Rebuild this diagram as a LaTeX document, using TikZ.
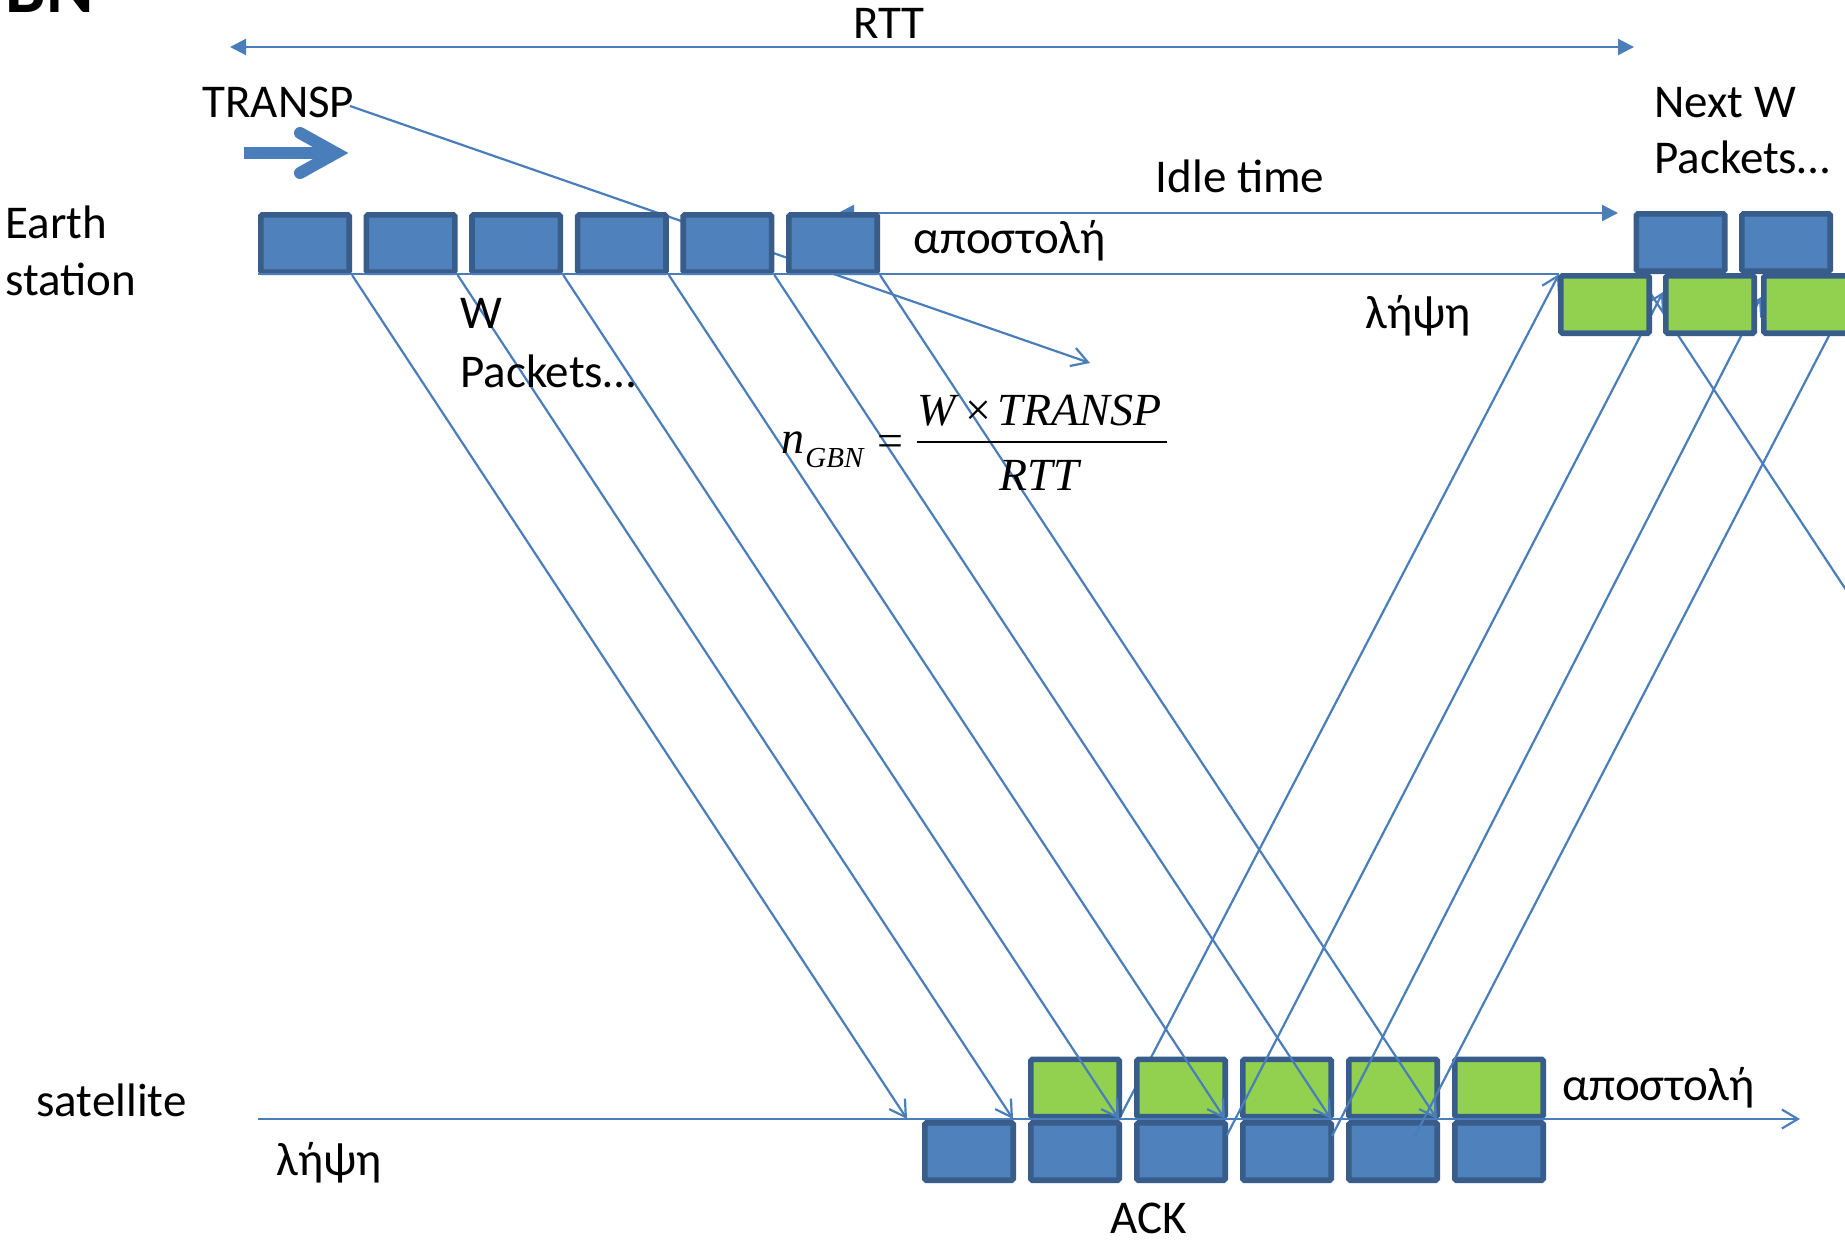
\documentclass[tikz,border=0pt]{standalone}
\usepackage{fontspec}
\setmainfont{Carlito}
\newfontfamily\tms{Liberation Serif}
\usetikzlibrary{arrows.meta}
\definecolor{pfill}{HTML}{4F81BD}
\definecolor{pborder}{HTML}{385D8A}
\definecolor{ackfill}{HTML}{92D050}
\definecolor{ln}{HTML}{4A7EBB}
\begin{document}
\begin{tikzpicture}[x=0.5pt,y=-0.5pt,
  lbl/.style={font=\fontsize{23.5pt}{28pt}\selectfont, inner sep=0pt, anchor=base west},
  frm/.style={inner sep=0pt, anchor=base west},
  pkt/.style={draw=pborder, line width=2.8pt, fill=pfill, minimum width=44.2pt, minimum height=28.7pt, inner sep=0pt, rounded corners=0.8pt},
  ackbox/.style={pkt, fill=ackfill},
  conn/.style={draw=ln, line width=1.1pt},
  barb/.style={conn, -{Straight Barb[length=8pt,width=9.5pt]}},
  dbl/.style={conn, {Triangle[length=8pt,width=8pt]}-{Triangle[length=8pt,width=8pt]}},
]
\useasboundingbox (0,0) rectangle (1845,1242);
\fill[white] (0,0) rectangle (1845,1242);
\clip (0,0) rectangle (1845,1242);

% title fragment
\node[inner sep=0pt, anchor=base east, font=\fontsize{36pt}{36pt}\selectfont\bfseries] (title) at (94,12) {BN};

% coordinates
\coordinate (rL) at (230,47);
\coordinate (rR) at (1634,47);
\coordinate (iL) at (838,213);
\coordinate (iR) at (1618,213);
\coordinate (tS) at (350,106);
\coordinate (tE) at (1090,363);
\coordinate (eL) at (258,274);
\coordinate (sL) at (258,1119);
\coordinate (sR) at (1800,1119);
\foreach \i in {1,...,6} \coordinate (s\i) at ({907+106*(\i-1)},1119);
\coordinate (c2) at (1227,1135);
\coordinate (c3) at (1332,1136);
\coordinate (c4) at (1415,1136);
\coordinate (a2) at (1663,292);
\coordinate (a3) at (1761,297);
\coordinate (a4) at (1849,297);
\coordinate (nS) at (1637,273);
\coordinate (nE) at (1945,740);

% RTT and idle arrows, TRANSP line (behind the packets)
\draw[dbl] (rL) -- (rR);
\draw[dbl] (iL) -- (iR);
\draw[barb] (tS) -- (tE);

% thick arrow
\coordinate (k1) at (244,153);
\coordinate (k2) at (336,153);
\coordinate (k3) at (300,133);
\coordinate (k4) at (300,173);
\draw[ln, line width=6pt, line cap=butt] (k1) -- (k2);
\draw[ln, line width=6pt, line cap=round, line join=miter] (k3) -- (k2) -- (k4);

% earth station packets
\foreach \i in {1,...,6} \node[pkt] (e\i) at ({305+105.6*(\i-1)},243.5) {};

% ACK 1 (behind satellite boxes)
\draw[barb] (s3) -- (1559,274) coordinate (r1c);

% satellite packets
\foreach \i in {1,...,6} \node[pkt] (b\i) at ({969+106*(\i-1)},1151.5) {};
\foreach \i in {2,...,6} \node[ackbox] (g\i) at ({969+106*(\i-1)},1088) {};

% lines
\draw[conn] (eL) -- (r1c);
\draw[barb] (sL) -- (sR);
\foreach \i in {1,...,6} \draw[barb] (e\i.south east) -- (s\i);
\draw[barb] (c2) -- (a2);
\draw[barb] (c3) -- (a3);
\draw[barb] (c4) -- (a4);
\draw[conn] (nS) -- (nE);

% next window packets and ACKs
\node[pkt] (n1) at (1680.5,242.5) {};
\node[pkt] (n2) at (1786,242.5) {};
\node[ackbox] (r1) at (1605,304.5) {};
\node[ackbox] (r2) at (1710,304.5) {};
\node[ackbox] (r3) at (1808,304.5) {};

% labels
\node[lbl, anchor=base] (trtt) at (889,39) {RTT};
\node[lbl] (ttransp) at (202,117) {TRANSP};
\node[lbl] (tearth) at (5,238) {Earth};
\node[lbl] (tstation) at (5,295) {station};
\node[lbl] (tw) at (460,328) {W};
\node[lbl] (tpk) at (460,387) {Packets…};
\node[lbl, anchor=base] (tidle) at (1240,192) {Idle time};
\node[lbl] (tapo1) at (913,253) {αποστολή};
\node[lbl] (tnext) at (1654,117) {Next W};
\node[lbl] (tnpk) at (1654,173) {Packets…};
\node[lbl] (tlip1) at (1365,328) {λήψη};
\node[lbl] (tsat) at (36,1116) {satellite};
\node[lbl] (tlip2) at (276,1175) {λήψη};
\node[lbl, anchor=base] (tack) at (1149,1233) {ACK};
\node[lbl] (tapo2) at (1562,1100) {αποστολή};

% formula
\node[frm, font=\tms\fontsize{23pt}{23pt}\selectfont\itshape] (fn) at (781,453) {n};
\node[frm, font=\tms\fontsize{14.5pt}{14.5pt}\selectfont\itshape] (fsub) at (805,467) {GBN};
\node[frm, anchor=base, font=\tms\fontsize{23pt}{23pt}\selectfont] (feq) at (890,456) {=};
\node[frm, font=\tms\fontsize{23pt}{23pt}\selectfont] (fnum) at (917,425) {\itshape W\hspace{5pt}\upshape ×\hspace{3pt}\itshape TRANSP};
\node[frm, font=\tms\fontsize{23pt}{23pt}\selectfont\itshape] (fden) at (999,490) {RTT};
\coordinate (fb1) at (917,442);
\coordinate (fb2) at (1167,442);
\draw[line width=1pt] (fb1) -- (fb2);
\end{tikzpicture}
\end{document}
